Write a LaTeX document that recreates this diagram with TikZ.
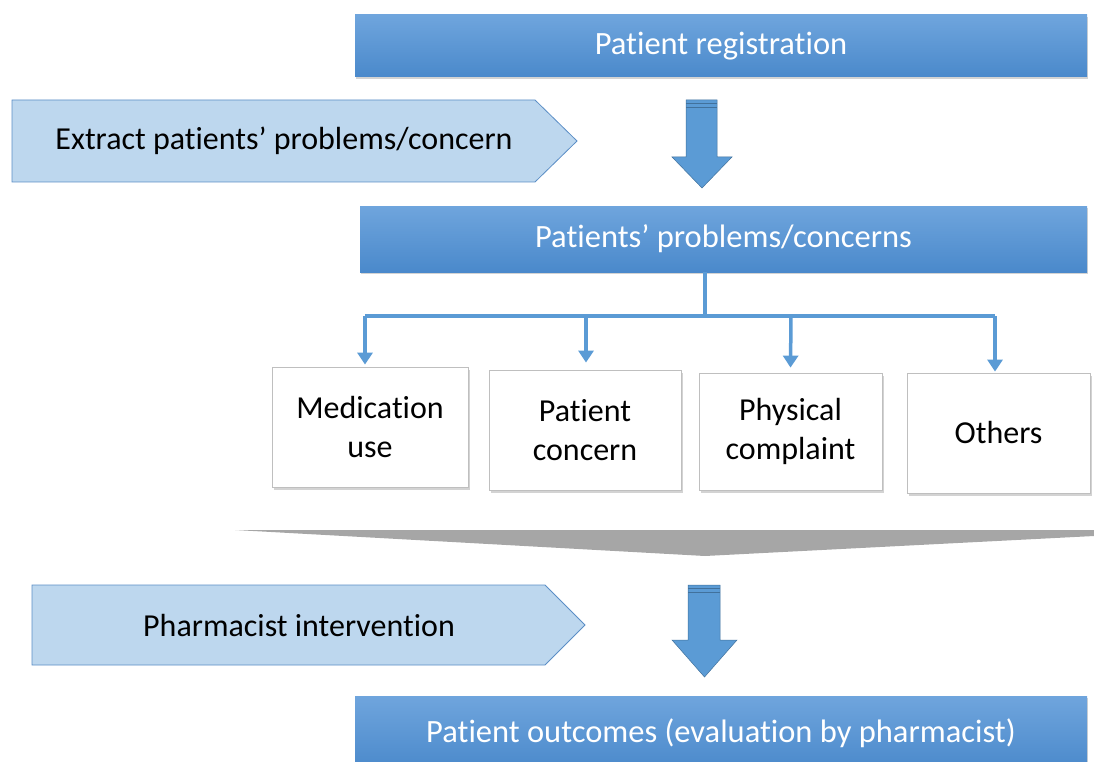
\documentclass[tikz,border=0pt]{standalone}
\usepackage{fontspec}
\setmainfont[Ligatures=NoCommon]{Carlito}
\usetikzlibrary{shadows,arrows.meta}
\definecolor{bluetop}{HTML}{6FA5DD}
\definecolor{bluebot}{HTML}{4A89CB}
\definecolor{lightblue}{HTML}{BDD7EE}
\definecolor{blueedge}{HTML}{5B8EC6}
\definecolor{arrowblue}{HTML}{5B9BD5}
\definecolor{arrowedge}{HTML}{41719C}
\definecolor{chev}{HTML}{A6A6A6}
\tikzset{
  bluebar/.style={rectangle, draw=none, top color=bluetop, bottom color=bluebot,
    text=white, font=\fontsize{32.5}{36}\selectfont, inner sep=0pt,
    drop shadow={shadow xshift=1pt, shadow yshift=-2pt, opacity=0.35}},
  whitebox/.style={rectangle, draw=black!25, fill=white, line width=0.8pt,
    font=\fontsize{32}{39}\selectfont, align=center, inner sep=0pt,
    drop shadow={shadow xshift=2pt, shadow yshift=-3pt, opacity=0.35}},
  sidelabel/.style={font=\fontsize{32}{36}\selectfont, inner sep=0pt},
  pentagon/.style={fill=lightblue, draw=blueedge, line width=0.8pt},
  tree/.style={draw=arrowblue, line width=3.5pt, -{Triangle[width=15pt,length=12pt]}},
  blockarrow/.style={fill=arrowblue, draw=arrowedge, line width=0.5pt},
}
\newcommand{\lowered}[1]{\raisebox{-3pt}{#1}}
\begin{document}
\begin{tikzpicture}[x=1pt,y=-1pt]
\useasboundingbox (0,0) rectangle (1094,762);

% top bar
\node[bluebar, minimum width=732pt, minimum height=62pt] (reg) at (721,46) {\lowered{Patient registration}};

% extract pentagon
\draw[pentagon] (12,100) -- (535,100) -- (577,141) -- (535,182) -- (12,182) -- cycle;
\node[sidelabel] (extract) at (284,141) {Extract patients’ problems/concern};

% block arrow 1
\draw[blockarrow] (686,100) -- (717,100) -- (717,157) -- (732,157) -- (702,188) -- (672,157) -- (686,157) -- cycle;
\draw[arrowedge, line width=1pt] (686,103.5) -- (717,103.5);
\draw[arrowedge, line width=1pt] (686,107.5) -- (717,107.5);

% problems bar
\node[bluebar, minimum width=727pt, minimum height=66pt] (prob) at (723.5,239) {\lowered{Patients’ problems/concerns}};

% category boxes
\node[whitebox, minimum width=196pt, minimum height=120pt] (med) at (370,427) {Medication\\use};
\node[whitebox, minimum width=192pt, minimum height=120pt] (pc) at (585,430) {Patient\\concern};
\node[whitebox, minimum width=183pt, minimum height=117pt] (phys) at (790.5,431.5) {Physical\\complaint};
\node[whitebox, minimum width=183pt, minimum height=120pt] (oth) at (998.5,433) {Others};

% tree connectors
\coordinate (stem) at (705,272);
\coordinate (hub) at (705,316);
\draw[line width=3.5pt, arrowblue] (stem) -- (hub);
\draw[line width=3.5pt, arrowblue] (365,316) -- (995,316);
\draw[tree] (365,316) -- ([xshift=-5pt,yshift=2pt]med.north);
\draw[tree] (586,316) -- ([xshift=1pt,yshift=7pt]pc.north);
\draw[tree] (791,316) -- ([yshift=5pt]phys.north);
\draw[tree] (995,316) -- ([xshift=-3.5pt,yshift=1pt]oth.north);

% gray chevron
\fill[chev] (235,530) -- (1094,530) -- (1094,536) -- (705,556) -- cycle;

% pharmacist pentagon
\draw[pentagon] (32,585) -- (545,585) -- (585,625) -- (545,665) -- (32,665) -- cycle;
\node[sidelabel] (pharm) at (299,626) {Pharmacist intervention};

% block arrow 2
\draw[blockarrow] (688,585) -- (720,585) -- (720,640) -- (737,640) -- (704.5,677) -- (672,640) -- (688,640) -- cycle;
\draw[arrowedge, line width=1pt] (688,588.5) -- (720,588.5);
\draw[arrowedge, line width=1pt] (688,592.5) -- (720,592.5);

% outcomes bar
\node[bluebar, minimum width=732pt, minimum height=74pt] (out) at (721,733) {\lowered{Patient outcomes (evaluation by pharmacist)}};
\end{tikzpicture}
\end{document}
